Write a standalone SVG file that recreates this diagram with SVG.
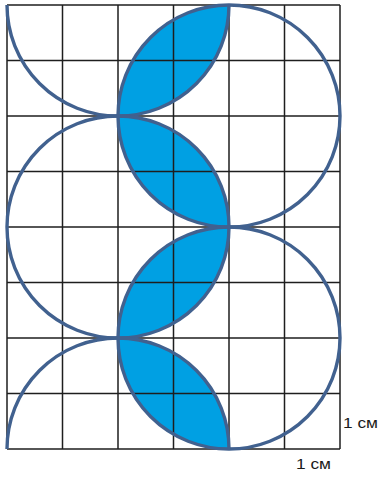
<svg xmlns="http://www.w3.org/2000/svg" width="380" height="477" viewBox="0 0 380 477">
<style>
.lens{fill:#00A0E3;stroke:none}
.grid line{stroke:#1e1e1e;stroke-width:1.5}
.circ{fill:none;stroke:#41618F;stroke-width:3.4}
.lbl{font-family:"Liberation Sans",Arial,sans-serif;font-size:15px;fill:#1a1a1a}
</style>
<rect width="380" height="477" fill="#fff"/>
<g id="lenses">
<path class="lens" d="M118,116 A111,111 0 0 0 229,5 A111,111 0 0 0 118,116 Z"/>
<path class="lens" d="M118,116 A111,111 0 0 0 229,227 A111,111 0 0 0 118,116 Z"/>
<path class="lens" d="M229,227 A111,111 0 0 1 118,338 A111,111 0 0 1 229,227 Z"/>
<path class="lens" d="M118,338 A111,111 0 0 0 229,449 A111,111 0 0 0 118,338 Z"/>
</g>
<g id="grid" class="grid">
<line x1="7" y1="5" x2="7" y2="449"/>
<line x1="62.5" y1="5" x2="62.5" y2="449"/>
<line x1="118" y1="5" x2="118" y2="449"/>
<line x1="173.5" y1="5" x2="173.5" y2="449"/>
<line x1="229" y1="5" x2="229" y2="449"/>
<line x1="284.5" y1="5" x2="284.5" y2="449"/>
<line x1="340" y1="5" x2="340" y2="449"/>
<line x1="7" y1="5" x2="340" y2="5"/>
<line x1="7" y1="60.5" x2="340" y2="60.5"/>
<line x1="7" y1="116" x2="340" y2="116"/>
<line x1="7" y1="171.5" x2="340" y2="171.5"/>
<line x1="7" y1="227" x2="340" y2="227"/>
<line x1="7" y1="282.5" x2="340" y2="282.5"/>
<line x1="7" y1="338" x2="340" y2="338"/>
<line x1="7" y1="393.5" x2="340" y2="393.5"/>
<line x1="7" y1="449" x2="340" y2="449"/>
</g>
<g id="circles">
<path class="circ" d="M7,5 A111,111 0 0 0 229,5"/>
<circle class="circ" cx="229" cy="116" r="111"/>
<circle class="circ" cx="118" cy="227" r="111"/>
<circle class="circ" cx="229" cy="338" r="111"/>
<path class="circ" d="M7,449 A111,111 0 0 1 229,449"/>
</g>
<g id="labels">
<text class="lbl" x="343" y="428" textLength="35" lengthAdjust="spacingAndGlyphs">1 см</text>
<text class="lbl" x="296" y="469" textLength="35" lengthAdjust="spacingAndGlyphs">1 см</text>
</g>
</svg>
